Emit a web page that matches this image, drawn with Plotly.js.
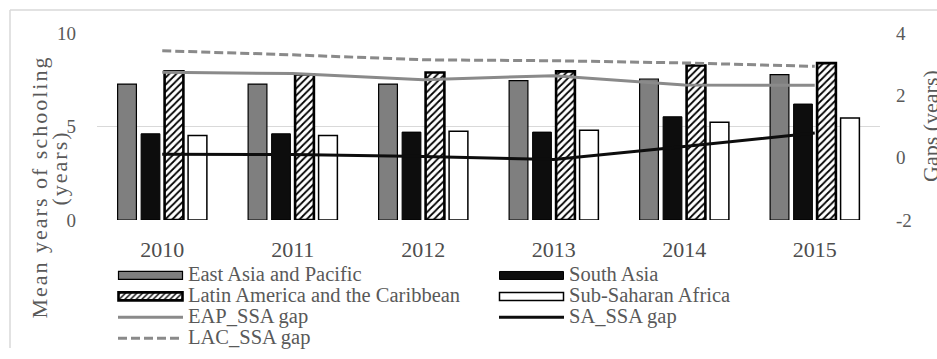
<!DOCTYPE html>
<html>
<head>
<meta charset="utf-8">
<script src="https://cdn.plot.ly/plotly-3.0.1.min.js"></script>
<style>
  html, body { margin: 0; padding: 0; background: #fff; }
  #chart { width: 937px; height: 359px; }
</style>
</head>
<body>
<div id="chart"></div>
<script>
// Mean years of schooling by region (left axis) and regional gaps vs. SSA (right axis)
var years = ['2010', '2011', '2012', '2013', '2014', '2015'];

var eastAsiaPacific = [7.27, 7.27, 7.27, 7.45, 7.54, 7.77];
var southAsia       = [4.61, 4.61, 4.70, 4.70, 5.52, 6.20];
var latinAmerica    = [7.95, 7.78, 7.89, 7.95, 8.26, 8.39];
var subSaharan      = [4.52, 4.52, 4.75, 4.80, 5.23, 5.45];

var eapSsaGap = [2.74, 2.70, 2.50, 2.63, 2.33, 2.32];
var saSsaGap  = [0.11, 0.10, 0.04, -0.06, 0.36, 0.79];
var lacSsaGap = [3.43, 3.30, 3.14, 3.11, 3.04, 2.93];

var leftTicks  = [0, 5, 10];
var rightTicks = [-2, 0, 2, 4];
var rightTickText = ['-2', '0', '2', '4'];

var SERIF = 'Liberation Serif, Times New Roman, DejaVu Serif, serif';
var TEXT = '#595959';

// plot-area geometry in pixels, used to place paper-referenced decorations
var W = 937, H = 359, ML = 97, MR = 57, MT = 33, MB = 139;
var PW = W - ML - MR, PH = H - MT - MB;
function px(x) { return (x - ML) / PW; }
function py(y) { return (H - MB - y) / PH; }

function legendName(s) { return '<span style="font-size:20.5px">' + s + '</span>'; }

var traces = [
  { type: 'bar', name: legendName('East Asia and Pacific'), x: years, y: eastAsiaPacific,
    marker: { color: '#7f7f7f', line: { color: '#000', width: 1.2 } } },
  { type: 'bar', name: legendName('South Asia'), x: years, y: southAsia,
    marker: { color: '#0d0d0d', line: { color: '#000', width: 1 } } },
  { type: 'bar', name: legendName('Latin America and the Caribbean'), x: years, y: latinAmerica,
    marker: { color: '#fff', line: { color: '#000', width: 2.6 },
              pattern: { shape: '/', fgcolor: '#000', bgcolor: '#fff', size: 5, solidity: 0.35, fillmode: 'replace' } } },
  { type: 'bar', name: legendName('Sub-Saharan Africa'), x: years, y: subSaharan,
    marker: { color: '#fff', line: { color: '#000', width: 1.5 } } },
  { type: 'scatter', mode: 'lines', name: legendName('EAP_SSA gap'), x: years, y: eapSsaGap, yaxis: 'y2',
    line: { color: '#8a8a8a', width: 3 } },
  { type: 'scatter', mode: 'lines', name: legendName('SA_SSA gap'), x: years, y: saSsaGap, yaxis: 'y2',
    line: { color: '#0d0d0d', width: 3 } },
  { type: 'scatter', mode: 'lines', name: legendName('LAC_SSA gap'), x: years, y: lacSsaGap, yaxis: 'y2',
    line: { color: '#8a8a8a', width: 3, dash: '9px,4px' } }
];

var layout = {
  width: W, height: H,
  margin: { l: ML, r: MR, t: MT, b: MB, pad: 0, autoexpand: false },
  paper_bgcolor: '#fff', plot_bgcolor: '#fff',
  font: { family: SERIF, color: TEXT, size: 19 },
  barmode: 'group', bargap: 0.28, bargroupgap: 0.2,
  showlegend: true,
  legend: {
    orientation: 'h', xref: 'container', yref: 'container',
    x: 113 / W, xanchor: 'left', y: 1 - 260 / H, yanchor: 'top',
    entrywidth: 301, entrywidthmode: 'pixels', itemwidth: 65,
    font: { family: SERIF, color: TEXT, size: 13.8 },
    bgcolor: 'rgba(0,0,0,0)', traceorder: 'normal'
  },
  xaxis: {
    type: 'category', showgrid: false, zeroline: false, showline: false, ticks: '',
    tickfont: { family: SERIF, size: 22, color: '#4d4d4d' }, ticklabelstandoff: 14
  },
  yaxis: {
    range: [0, 10], tickvals: leftTicks, showgrid: true, gridcolor: '#d9d9d9', gridwidth: 1,
    zeroline: false, showline: false, ticks: '', ticklabelstandoff: 20,
    tickfont: { family: SERIF, size: 19, color: TEXT }
  },
  yaxis2: {
    range: [-2, 4], tickvals: rightTicks, ticktext: rightTickText, overlaying: 'y', side: 'right',
    showgrid: false, zeroline: false, showline: false, ticks: '', ticklabelstandoff: 15,
    tickfont: { family: SERIF, size: 19, color: TEXT }
  },
  annotations: [
    { text: '<span style="letter-spacing:2px">Mean years of schooling</span>', textangle: -90,
      xref: 'paper', yref: 'paper', x: px(38.5), y: py(187), xanchor: 'center', yanchor: 'middle',
      showarrow: false, font: { family: SERIF, size: 22, color: TEXT } },
    { text: '<span style="letter-spacing:2px">(years)</span>', textangle: -90,
      xref: 'paper', yref: 'paper', x: px(58.5), y: py(168), xanchor: 'center', yanchor: 'middle',
      showarrow: false, font: { family: SERIF, size: 22, color: TEXT } },
    { text: 'Gaps (years)', textangle: -90,
      xref: 'paper', yref: 'paper', x: px(930), y: py(126), xanchor: 'center', yanchor: 'middle',
      showarrow: false, font: { family: SERIF, size: 22, color: TEXT } }
  ],
  shapes: [
    // chart frame (left and top edges)
    { type: 'line', xref: 'paper', yref: 'paper', x0: px(10), x1: px(10), y0: py(348), y1: py(10),
      line: { color: '#d9d9d9', width: 1.5 } },
    { type: 'line', xref: 'paper', yref: 'paper', x0: px(10), x1: px(950), y0: py(10), y1: py(10),
      line: { color: '#d9d9d9', width: 1.5 } }
  ]
};

var gd = document.getElementById('chart');

// stretch the bar swatches in the legend to the same width as the line swatches
function widenBarSwatches() {
  gd.querySelectorAll('.legend .legendpoints path').forEach(function (p) {
    p.setAttribute('d', 'M32,4H-32V-4H32Z');
  });
}

Plotly.newPlot(gd, traces, layout, { staticPlot: true, displayModeBar: false }).then(function () {
  gd.on('plotly_afterplot', widenBarSwatches);
  widenBarSwatches();
  setTimeout(widenBarSwatches, 50);
});
</script>
</body>
</html>
